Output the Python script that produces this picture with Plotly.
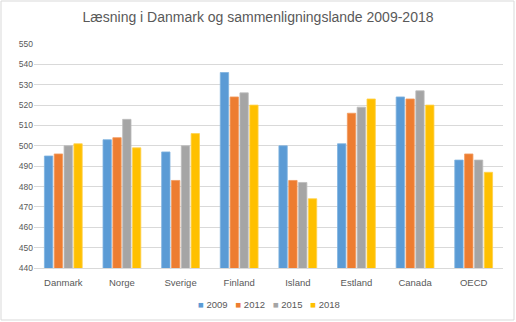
import plotly.graph_objects as go

# PISA reading scores by country and year
countries = ["Danmark", "Norge", "Sverige", "Finland", "Island", "Estland", "Canada", "OECD"]
years = ["2009", "2012", "2015", "2018"]
scores_2009 = [495, 503, 497, 536, 500, 501, 524, 493]
scores_2012 = [496, 504, 483, 524, 483, 516, 523, 496]
scores_2015 = [500, 513, 500, 526, 482, 519, 527, 493]
scores_2018 = [501, 499, 506, 520, 474, 523, 520, 487]
y_ticks = list(range(440, 551, 10))

series = [scores_2009, scores_2012, scores_2015, scores_2018]
colors = ["#5B9BD5", "#ED7D31", "#A5A5A5", "#FFC000"]
edges = ["#7FB2E0", "#F19A5E", "#BDBDBD", "#FFD24D"]

W, H = 516, 322
ml, mr, mt, mb = 34, 13, 44, 54
pw, ph = W - ml - mr, H - mt - mb

fig = go.Figure()
for name, vals, c, e in zip(years, series, colors, edges):
    fig.add_trace(go.Bar(
        x=countries, y=vals, name=name,
        marker=dict(color=c, line=dict(color=e, width=0.8)),
        showlegend=False,
    ))

font_family = "Liberation Sans, Arial, sans-serif"
fig.update_layout(
    width=W, height=H,
    margin=dict(l=ml, r=mr, t=mt, b=mb, autoexpand=False),
    paper_bgcolor="white", plot_bgcolor="white",
    barmode="group", bargap=0.33, bargroupgap=0.15,
    title=dict(text="Læsning i Danmark og sammenligningslande 2009-2018",
               x=0.5, xanchor="center", y=1 - 17 / H, yanchor="middle",
               font=dict(family=font_family, size=14, color="#595959")),
    font=dict(family=font_family, size=9, color="#595959"),
    xaxis=dict(showgrid=False, showline=True, linecolor="#D9D9D9", linewidth=1,
               ticks="", ticklabelstandoff=6,
               tickfont=dict(size=9.5, color="#595959")),
    yaxis=dict(range=[440, 550], tickvals=y_ticks, showgrid=True, gridcolor="#D9D9D9",
               gridwidth=1, zeroline=False, showline=False, ticks="",
               tickfont=dict(size=8.5, color="#595959")),
)

# compact legend row: coloured squares followed by the year
legend_text = "&nbsp;&nbsp;&nbsp;".join(
    f"<span style='color:{c}'>■</span>&nbsp;{y}" for y, c in zip(years, colors)
)
fig.add_annotation(text=legend_text, xref="paper", yref="paper",
                   x=0.5, xanchor="center", y=-(304 - (mt + ph)) / ph, yanchor="middle",
                   showarrow=False, font=dict(size=9.5, color="#595959"))

# light chart border
fig.add_shape(type="rect", xref="paper", yref="paper",
              x0=(1 - ml) / pw, x1=(W - 2 - ml) / pw,
              y0=-(H - 2 - (mt + ph)) / ph, y1=(mt + ph - 1) / ph,
              line=dict(color="#D9D9D9", width=1), layer="below")

fig.write_html("out.html")
